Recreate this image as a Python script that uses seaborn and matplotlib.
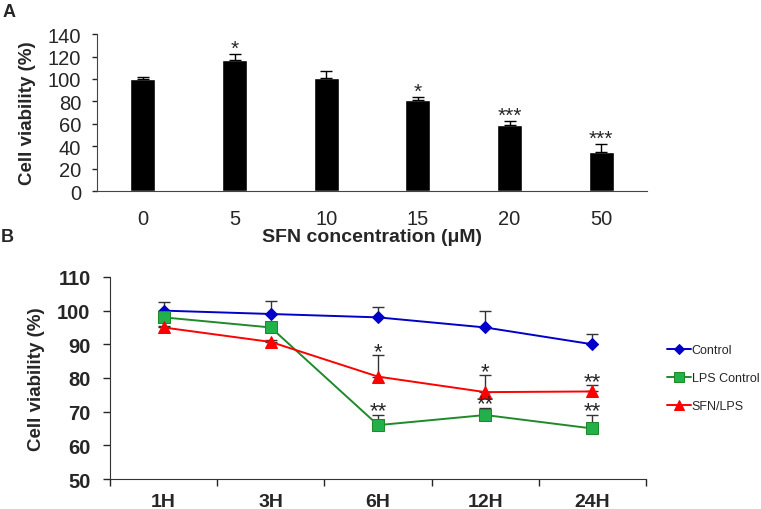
import numpy as np
import pandas as pd
import seaborn as sns
from matplotlib import pyplot as plt
from matplotlib.ticker import FixedLocator

# Panel A data
concentrations = ["0", "5", "10", "15", "20", "50"]
viability_a = [100, 117, 100.5, 81.5, 58.5, 35]
err_a = [1.5, 5, 6.5, 2, 4, 7]
stars_a = ["", "*", "", "*", "***", "***"]

# Panel B data
times = ["1H", "3H", "6H", "12H", "24H"]
control = [100, 99, 98, 95, 90]
control_err = [2.6, 4, 3, 5, 3]
lps = [98, 95, 66, 69, 65]
lps_err = [0.5, 0.5, 3, 2, 4]
sfn_lps = [95, 90.7, 80.4, 75.8, 76]
sfn_lps_err = [0.5, 0.5, 6.3, 5, 2]
stars_lps = ["", "", "**", "**", "**"]
stars_sfn = ["", "", "*", "*", "**"]

sns.set_style("white")
plt.rcParams['font.family'] = ['Liberation Sans', 'DejaVu Sans']

fig = plt.figure(figsize=(7.61, 5.10), dpi=100)

# ---------- Panel A ----------
ax1 = fig.add_axes([0.1275, 0.6235, 0.7227, 0.3075])
df_a = pd.DataFrame({"conc": concentrations, "viab": viability_a})
sns.barplot(data=df_a, x="conc", y="viab", color="black", width=0.27,
            errorbar=None, ax=ax1, saturation=1)
xa = np.arange(len(concentrations))
ax1.errorbar(xa, viability_a, yerr=[np.zeros(len(err_a)), err_a], fmt="none",
             ecolor="black", elinewidth=1, capsize=4, capthick=1)
for x, v, e, s in zip(xa, viability_a, err_a, stars_a):
    if s:
        ax1.text(x, v + e + 0.5, s, ha="center", va="baseline", fontsize=15)
ax1.set_ylim(0, 140)
ax1.set_xlim(-0.5, 5.5)
ax1.set_yticks(range(0, 141, 20))
ax1.tick_params(axis="y", direction="out", length=3.5, width=1, left=True,
                labelsize=14.5, pad=8)
ax1.tick_params(axis="x", length=0, labelsize=14.5, pad=13)
for sp in ["top", "right"]:
    ax1.spines[sp].set_visible(False)
ax1.spines["left"].set_color("#444444")
ax1.spines["bottom"].set_color("#444444")
ax1.set_ylabel("Cell viability (%)", fontsize=13.5, fontweight="bold",
               labelpad=8)
ax1.set_xlabel("SFN concentration (\u03bcM)", fontsize=14, fontweight="bold",
               labelpad=0)

# ---------- Panel B ----------
ax2 = fig.add_axes([0.1445, 0.0588, 0.7045, 0.3962])
xb = np.arange(len(times))
series = [
    ("Control", control, control_err, "#0000c8", "D", 6),
    ("LPS Control", lps, lps_err, "#1f8a2a", "s", 9),
    ("SFN/LPS", sfn_lps, sfn_lps_err, "#ff0000", "^", 9),
]
for name, vals, errs, col, mk, ms in series:
    ax2.errorbar(xb, vals, yerr=[np.zeros(len(errs)), errs], fmt="none",
                 ecolor="#333333", elinewidth=1, capsize=4, capthick=1, zorder=1)
    mfc = "#22b04a" if name == "LPS Control" else col
    sns.lineplot(x=xb, y=vals, color=col, marker=mk, markersize=ms,
                 markerfacecolor=mfc, markeredgecolor=col, linewidth=1.4,
                 label=name, ax=ax2, zorder=3)

for x, v, e, s in zip(xb, lps, lps_err, stars_lps):
    if s:
        ax2.text(x, v + e - 0.4, s, ha="center", va="baseline", fontsize=16)
for x, v, e, s in zip(xb, sfn_lps, sfn_lps_err, stars_sfn):
    if s:
        ax2.text(x, v + e - 0.6, s, ha="center", va="baseline", fontsize=16)

ax2.set_ylim(50, 110)
ax2.set_xlim(-0.5, 4.5)
ax2.set_yticks(range(50, 111, 10))
ax2.set_xticks(xb)
ax2.set_xticklabels(times)
ax2.xaxis.set_minor_locator(FixedLocator(np.arange(-0.5, 4.6, 1)))
ax2.tick_params(axis="x", which="major", length=0, labelsize=14, pad=10)
ax2.tick_params(axis="x", which="minor", direction="out", length=5, width=1,
                bottom=True)
ax2.tick_params(axis="y", direction="out", length=5, width=1, left=True,
                labelsize=14.5, pad=9)
for lab in ax2.get_xticklabels() + ax2.get_yticklabels():
    lab.set_fontweight("bold")
for sp in ["top", "right"]:
    ax2.spines[sp].set_visible(False)
ax2.spines["left"].set_color("#333333")
ax2.spines["bottom"].set_color("#333333")
ax2.set_xlabel("")
ax2.set_ylabel("Cell viability (%)", fontsize=13.5, fontweight="bold",
               labelpad=9)

ax2.legend(loc="center left", bbox_to_anchor=(0.877, 0.256),
           bbox_transform=fig.transFigure, frameon=False, fontsize=9,
           handlelength=1.9, handletextpad=0.05, labelspacing=1.28,
           markerscale=0.8, borderpad=0, borderaxespad=0)

fig.text(0.003, 0.993, "A", fontsize=13, fontweight="bold", va="top")
fig.text(0.001, 0.55, "B", fontsize=13, fontweight="bold", va="top")

fig.savefig("out.png", dpi=100)
